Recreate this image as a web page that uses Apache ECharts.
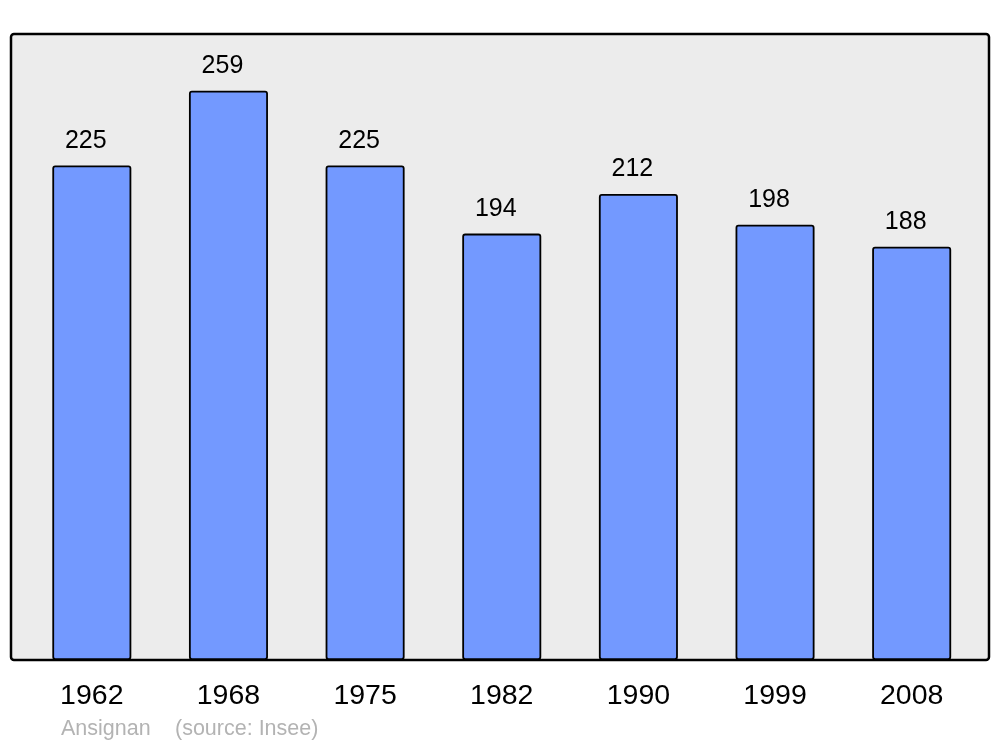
<!DOCTYPE html>
<html>
<head>
<meta charset="utf-8">
<script src="https://cdn.jsdelivr.net/npm/echarts@6/dist/echarts.min.js"></script>
<style>html,body{margin:0;padding:0;background:#fff;}#c{width:1000px;height:747px;}</style>
</head>
<body>
<div id="c"></div>
<script>
const years = ['1962','1968','1975','1982','1990','1999','2008'];
const population = [225, 259, 225, 194, 212, 198, 188];
const place = 'Ansignan';
const source = '(source: Insee)';

const chart = echarts.init(document.getElementById('c'), null, {renderer:'canvas'});
chart.setOption({
  animation: false,
  backgroundColor: '#ffffff',
  textStyle: {fontFamily: 'Liberation Sans, Arial, sans-serif'},
  grid: {left: 23.5, right: 20, top: 34, bottom: 87},
  graphic: [
    {type:'rect', z:-10, shape:{x:11, y:34, width:978, height:626, r:3},
     style:{fill:'#ececec', stroke:'#000', lineWidth:2.5}},
    {type:'text', left:61, top:718, style:{text:place, fill:'#b3b3b3', font:'21.5px "Liberation Sans", Arial, sans-serif'}},
    {type:'text', left:175, top:718, style:{text:source, fill:'#b3b3b3', font:'21.5px "Liberation Sans", Arial, sans-serif'}}
  ],
  xAxis: {
    type:'category', data: years,
    axisLine:{show:false}, axisTick:{show:false},
    axisLabel:{color:'#000', fontSize:28.5, margin:22, fontFamily:'Liberation Sans, Arial, sans-serif'}
  },
  yAxis: {
    type:'value', min:0, max:284.8,
    show:false, splitLine:{show:false}
  },
  series: [{
    type:'bar', data: population, barWidth:79,
    itemStyle:{color:'#7399ff', borderColor:'#000', borderWidth:1.8, borderRadius:2},
    label:{show:true, position:'top', distance:12, offset:[-6,0], color:'#000', fontSize:25, fontFamily:'Liberation Sans, Arial, sans-serif'}
  }]
});
</script>
</body>
</html>
